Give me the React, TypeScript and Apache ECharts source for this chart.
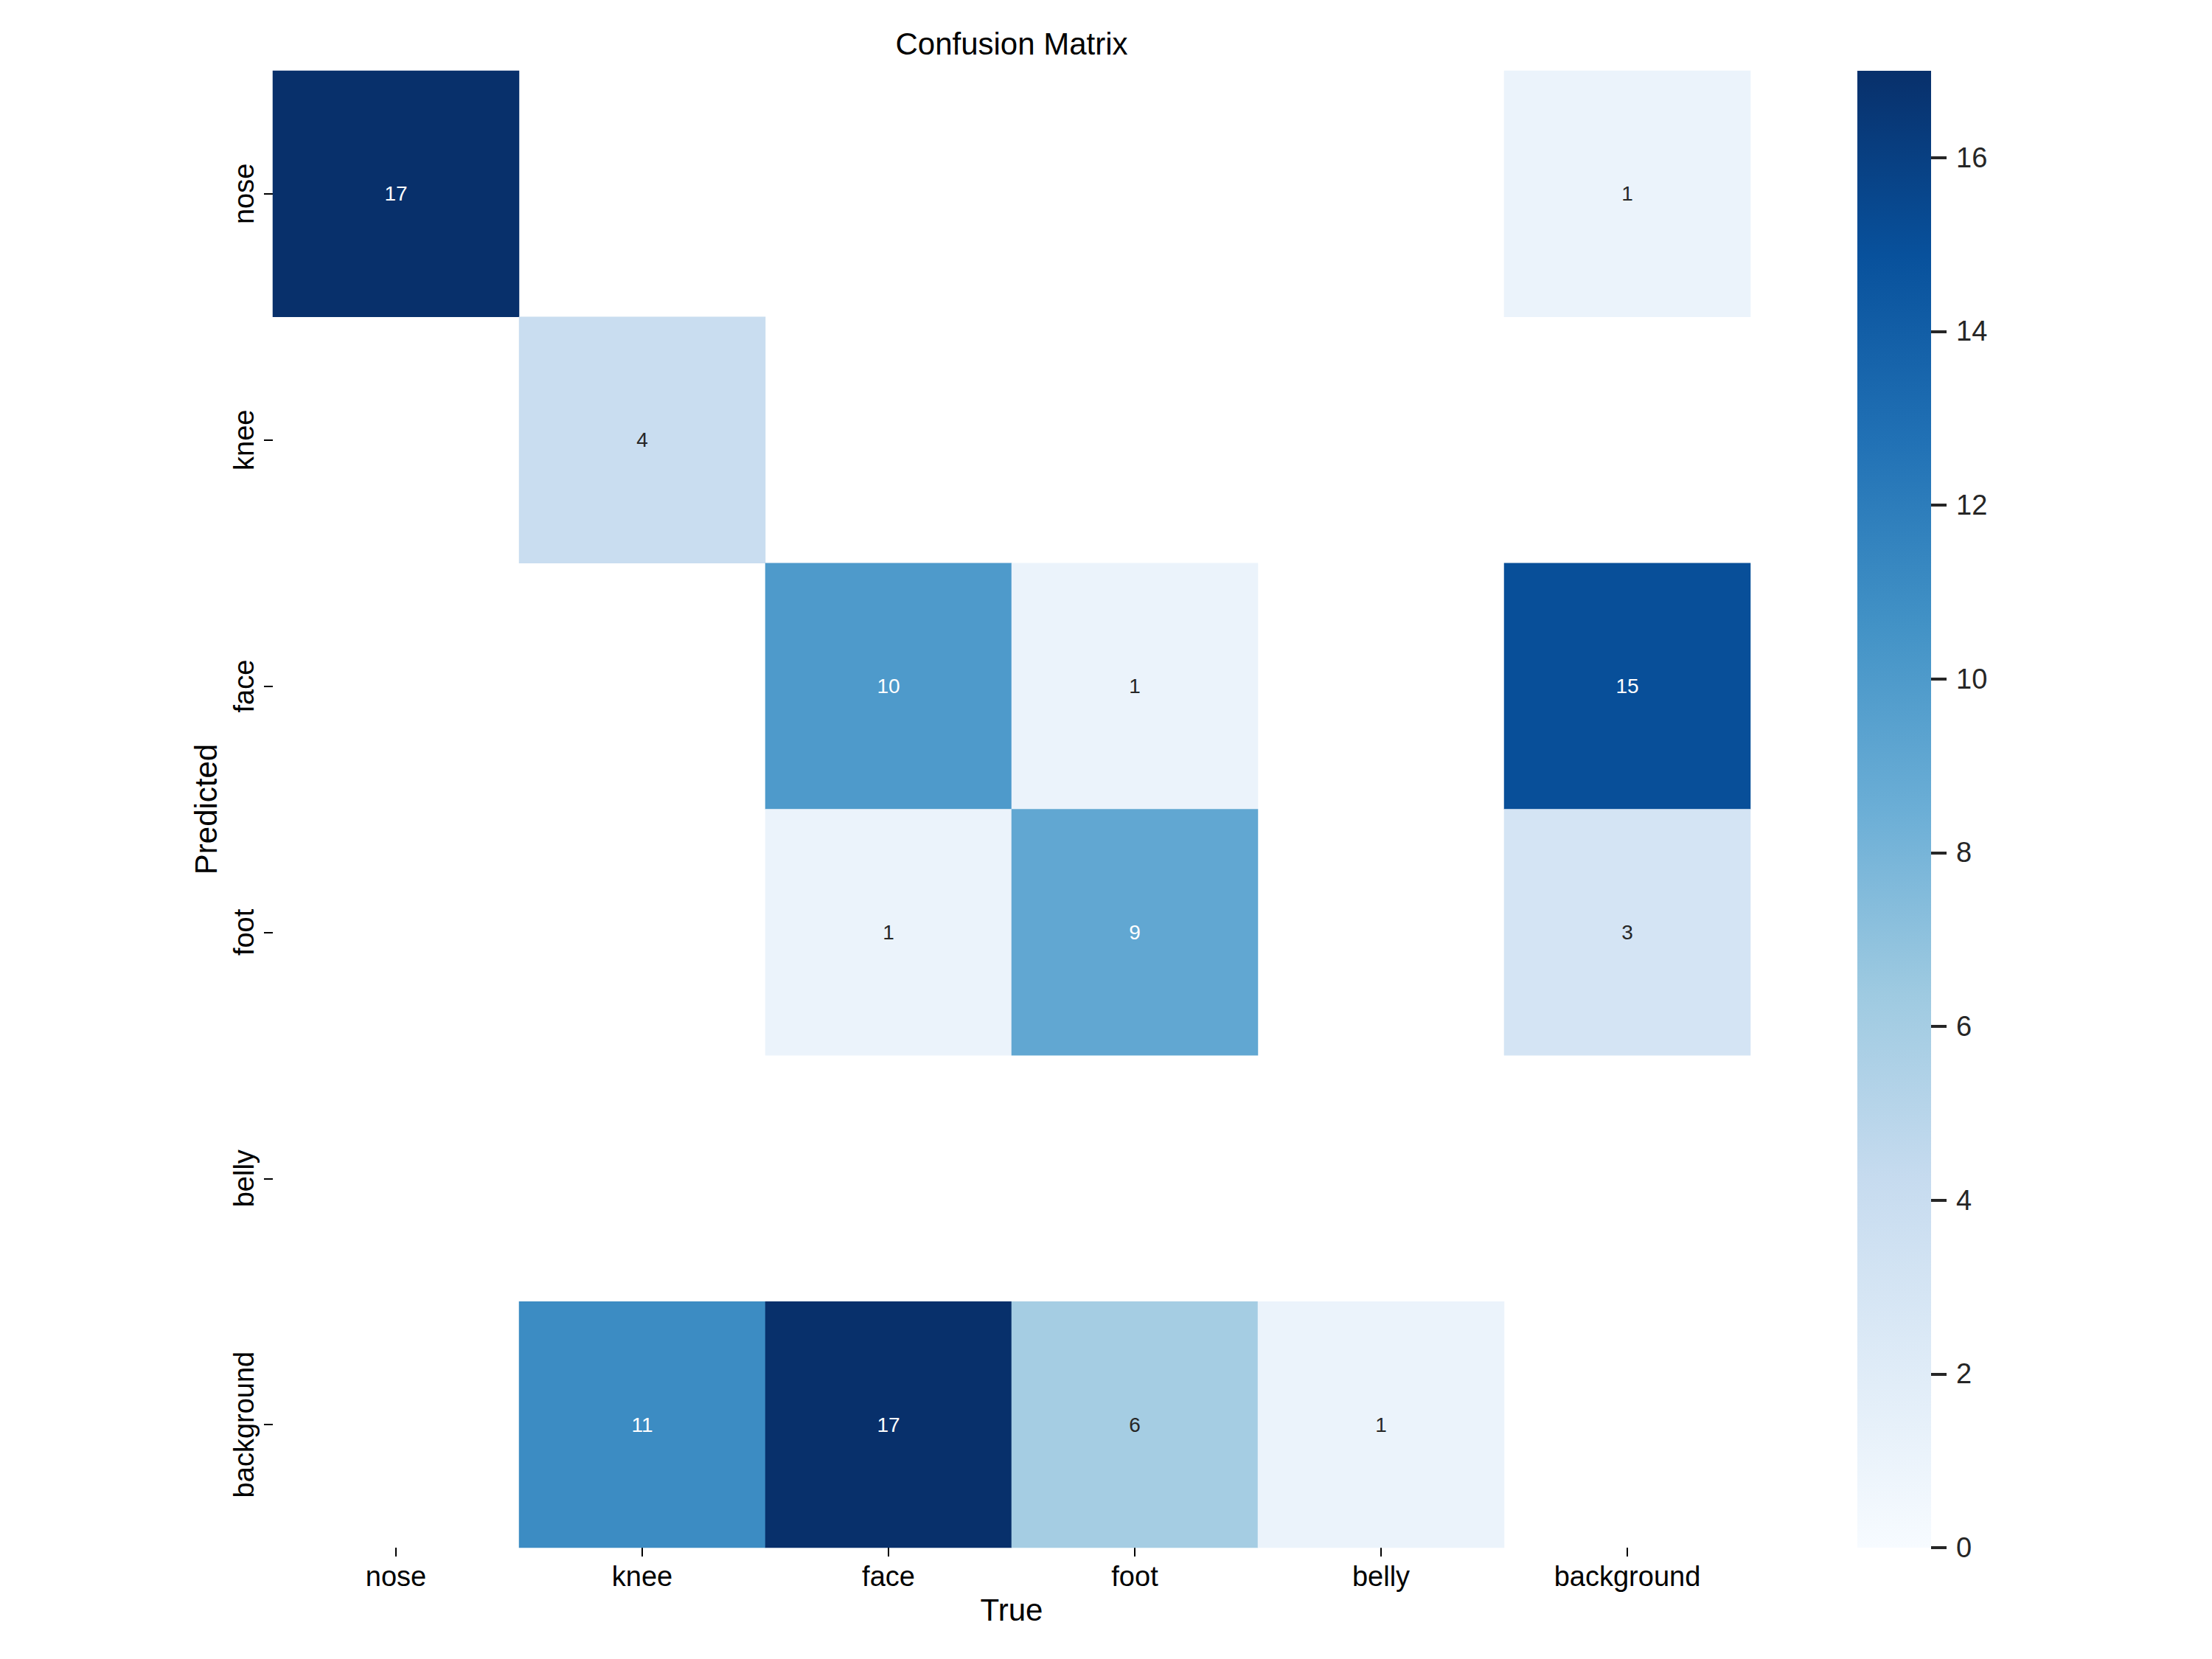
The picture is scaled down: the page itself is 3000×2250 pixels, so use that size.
import React, { useEffect, useRef } from 'react';
import * as echarts from 'echarts';

const trueLabels = ['nose', 'knee', 'face', 'foot', 'belly', 'background'];
const predictedLabels = ['nose', 'knee', 'face', 'foot', 'belly', 'background'];

// rows = predicted class, columns = true class
const predNose = [17, 0, 0, 0, 0, 1];
const predKnee = [0, 4, 0, 0, 0, 0];
const predFace = [0, 0, 10, 1, 0, 15];
const predFoot = [0, 0, 1, 9, 0, 3];
const predBelly = [0, 0, 0, 0, 0, 0];
const predBackground = [0, 11, 17, 6, 1, 0];
const matrixRows = [predNose, predKnee, predFace, predFoot, predBelly, predBackground];

const colorMin = 0;
const colorMax = 17;
const colorbarTicks = [0, 2, 4, 6, 8, 10, 12, 14, 16];

const blues = ['#f7fbff', '#deebf7', '#c6dbef', '#9ecae1', '#6baed6', '#4292c6', '#2171b5', '#08519c', '#08306b'];

const FONT = '"Liberation Sans", Arial, Helvetica, sans-serif';

function hexToRgb(h: string) {
  const n = parseInt(h.slice(1), 16);
  return [(n >> 16) & 255, (n >> 8) & 255, n & 255];
}

function colorAt(v: number) {
  const t = Math.max(0, Math.min(1, (v - colorMin) / (colorMax - colorMin)));
  const pos = t * (blues.length - 1);
  const i = Math.min(blues.length - 2, Math.floor(pos));
  const f = pos - i;
  const a = hexToRgb(blues[i]);
  const b = hexToRgb(blues[i + 1]);
  return a.map((c, k) => (c + (b[k] - c) * f) / 255);
}

function textColorFor(v: number) {
  const rgb = colorAt(v).map((c) => (c <= 0.03928 ? c / 12.92 : Math.pow((c + 0.055) / 1.055, 2.4)));
  const lum = 0.2126 * rgb[0] + 0.7152 * rgb[1] + 0.0722 * rgb[2];
  return lum > 0.408 ? '#262626' : '#ffffff';
}

export default function App() {
  const ref = useRef<HTMLDivElement>(null);

  useEffect(() => {
    if (!ref.current) return;
    const chart = echarts.init(ref.current, undefined, { renderer: 'svg' });

    const heatData: any[] = [];
    matrixRows.forEach((row, r) => {
      row.forEach((v, c) => {
        if (v >= 0.005) {
          heatData.push({ value: [c, r, v], label: { color: textColorFor(v) } });
        }
      });
    });

    const option: any = {
      animation: false,
      backgroundColor: '#ffffff',
      textStyle: { fontFamily: FONT },
      title: {
        text: 'Confusion Matrix',
        left: 1372,
        top: 38,
        textAlign: 'center',
        padding: 0,
        textStyle: { fontSize: 42, fontWeight: 'normal', color: '#000000', fontFamily: FONT },
      },
      grid: [
        { left: 370, top: 96, width: 2004, height: 2003 },
        { left: 2519, top: 96, width: 100, height: 2003 },
      ],
      xAxis: [
        {
          type: 'category',
          gridIndex: 0,
          data: trueLabels,
          position: 'bottom',
          name: 'True',
          nameLocation: 'middle',
          nameGap: 63,
          nameTextStyle: { fontSize: 42, color: '#000000', fontFamily: FONT },
          axisLine: { show: false },
          axisTick: { show: true, alignWithLabel: true, length: 12, lineStyle: { color: '#000000', width: 2 } },
          axisLabel: { fontSize: 38, color: '#000000', margin: 20, fontFamily: FONT },
          splitLine: { show: false },
          splitArea: { show: false },
        },
        {
          type: 'category',
          gridIndex: 1,
          data: [''],
          show: false,
        },
      ],
      yAxis: [
        {
          type: 'category',
          gridIndex: 0,
          data: predictedLabels,
          inverse: true,
          name: 'Predicted',
          nameLocation: 'middle',
          nameGap: 70,
          nameRotate: 90,
          nameTextStyle: { fontSize: 42, color: '#000000', fontFamily: FONT },
          axisLine: { show: false },
          axisTick: { show: true, alignWithLabel: true, length: 12, lineStyle: { color: '#000000', width: 2 } },
          axisLabel: { fontSize: 38, color: '#000000', margin: 20, rotate: 90, fontFamily: FONT },
          splitLine: { show: false },
          splitArea: { show: false },
        },
        {
          type: 'value',
          gridIndex: 1,
          position: 'right',
          min: colorMin,
          max: colorMax,
          axisLine: { show: false },
          axisTick: {
            show: true,
            length: 21,
            customValues: colorbarTicks,
            lineStyle: { color: '#262626', width: 4 },
          },
          axisLabel: {
            show: true,
            customValues: colorbarTicks,
            fontSize: 38,
            color: '#262626',
            margin: 34,
            fontFamily: FONT,
          },
          splitLine: { show: false },
        },
      ],
      visualMap: {
        type: 'continuous',
        show: false,
        seriesIndex: 0,
        min: colorMin,
        max: colorMax,
        inRange: { color: blues },
      },
      series: [
        {
          type: 'heatmap',
          xAxisIndex: 0,
          yAxisIndex: 0,
          data: heatData,
          label: {
            show: true,
            fontSize: 28,
            fontFamily: FONT,
            formatter: (p: any) => String(p.value[2]),
          },
          emphasis: { disabled: true },
          silent: true,
        },
        {
          type: 'bar',
          xAxisIndex: 1,
          yAxisIndex: 1,
          data: [colorMax],
          barWidth: '100%',
          silent: true,
          itemStyle: {
            color: new echarts.graphic.LinearGradient(
              0, 1, 0, 0,
              blues.map((c, i) => ({ offset: i / (blues.length - 1), color: c }))
            ),
          },
        },
      ],
    };

    chart.setOption(option);
    return () => chart.dispose();
  }, []);

  return (
    <div
      ref={ref}
      style={{ position: 'absolute', left: 0, top: 0, width: 3000, height: 2250 }}
    />
  );
}
